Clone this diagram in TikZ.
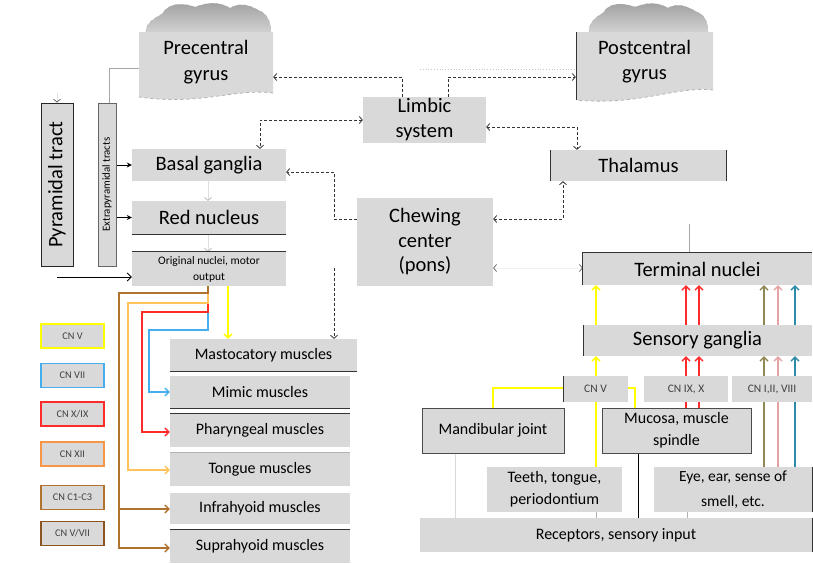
\documentclass[tikz,border=0pt]{standalone}
\usepackage{fontspec}
\setmainfont{Carlito}
\usetikzlibrary{arrows.meta}
\pgfdeclarelayer{back}
\pgfsetlayers{back,main}
\definecolor{boxgray}{HTML}{D9D9D9}
\definecolor{cyel}{HTML}{FFFF00}
\definecolor{cblue}{HTML}{45AEEE}
\definecolor{cred}{HTML}{FF2A2A}
\definecolor{corange}{HTML}{F79646}
\definecolor{clorange}{HTML}{FFC35A}
\definecolor{cbrown}{HTML}{B0722F}
\definecolor{cdbrown}{HTML}{8C5420}
\definecolor{colive}{HTML}{8F8A55}
\definecolor{cpink}{HTML}{E6A3A3}
\definecolor{cteal}{HTML}{2E8BA8}
\tikzset{
  box/.style={fill=boxgray, inner sep=0pt, align=center, font=\fontsize{20.5}{25}\selectfont},
  mbox/.style={fill=boxgray, inner sep=0pt, align=center, font=\fontsize{16}{20}\selectfont, minimum width=180pt},
  tbox/.style={fill=boxgray, inner sep=0pt, align=center, font=\fontsize{16}{23}\selectfont, minimum height=45pt},
  sbox/.style={fill=boxgray, inner sep=0pt, align=center, font=\fontsize{11.5}{12}\selectfont, text=black!75, minimum height=26pt},
  legbox/.style={fill=boxgray, inner sep=0pt, line width=1.8pt, minimum width=63pt, minimum height=24pt, font=\fontsize{10.3}{11}\selectfont, text=black!75},
  dar/.style={dash pattern=on 3pt off 2pt, line width=0.8pt, black!80},
  dtip/.tip={Straight Barb[length=3pt,width=7pt]},
  ctip/.tip={Straight Barb[length=4pt,width=8pt]},
  col/.style={line width=1.3pt},
  edge/.style={line width=1pt, black!80},
}
\begin{document}
\begin{tikzpicture}[x=1pt,y=-1pt]
\useasboundingbox (0,0) rectangle (813,563);

% ---- clouds and gyrus boxes ----
\shade[top color=gray!75, bottom color=gray!35, draw=gray!60, dashed]
  (146,33) to[out=95,in=210] (162,14) to[out=60,in=160] (195,7) to[out=20,in=150] (230,8)
  to[out=30,in=150] (258,10) to[out=-20,in=90] (271,33) -- cycle;
\fill[boxgray] (139,32) -- (273,32) -- (273,93) .. controls (235,88) and (200,106) .. (139,97) -- cycle;
\draw[gray!60, dashed, line width=0.8pt] (273,93) .. controls (235,88) and (200,106) .. (139,97);

\shade[top color=gray!75, bottom color=gray!35, draw=gray!60, dashed]
  (589,33) to[out=95,in=210] (603,13) to[out=60,in=160] (635,7) to[out=20,in=150] (668,8)
  to[out=30,in=150] (697,12) to[out=-20,in=90] (708,33) -- cycle;
\fill[boxgray] (576,32) -- (713,32) -- (713,90) .. controls (675,86) and (640,106) .. (576,100) -- cycle;
\draw[gray!60, dashed, line width=0.8pt] (713,90) .. controls (675,86) and (640,106) .. (576,100);
\draw[edge] (576,32) -- (576,100);

\node[inner sep=0pt, align=center, font=\fontsize{20.5}{26}\selectfont, minimum width=134pt, minimum height=68pt] (pre) at (206,62) {Precentral\\gyrus};
\node[inner sep=0pt, align=center, font=\fontsize{20.5}{25}\selectfont, minimum width=137pt, minimum height=68pt] (post) at (644.5,62) {Postcentral\\gyrus};

% ---- central nodes ----
\node[box, minimum width=123pt, minimum height=46pt] (limbic) at (424.5,120) {Limbic\\system};
\node[box, minimum width=175pt, minimum height=31pt] (thal) at (638.5,165.5) {Thalamus};
\node[box, minimum width=136pt, minimum height=88pt, font=\fontsize{20.5}{24.5}\selectfont] (chew) at (425,242) {Chewing\\center\\(pons)};
\draw[edge] (thal.north west) -- (thal.south west);
\draw[edge] (thal.north east) -- (thal.south east);

% ---- right side ----
\node[box, minimum width=229pt, minimum height=32pt] (term) at (697.5,269) {Terminal nuclei};
\draw[edge] (term.south west) -- (term.north west) -- (term.north east);
\node[box, minimum width=229pt, minimum height=31pt] (sg) at (697.5,340.5) {Sensory ganglia};
\draw[edge, line width=0.6pt] (sg.north west) -- (sg.south west);
\node[sbox, minimum width=65pt] (cnv) at (595.5,389) {CN V};
\draw[edge, line width=0.6pt] (cnv.north west) -- (cnv.south west);
\node[sbox, minimum width=84pt] (cnix) at (686,389) {CN IX, X};
\node[sbox, minimum width=80pt] (cni) at (772,389) {CN I,II, VIII};
\node[tbox, minimum width=142pt, draw=black!70, line width=0.6pt] (mand) at (493,430.5) {Mandibular joint};
\node[tbox, minimum width=149pt, draw=black!70, line width=0.6pt, font=\fontsize{16}{22}\selectfont] (muc) at (676.5,430.5) {Mucosa, muscle\\spindle};
\node[tbox, minimum width=135pt, font=\fontsize{16}{22}\selectfont] (teeth) at (554.5,489.5) {Teeth, tongue,\\periodontium};
\node[tbox, minimum width=158pt, font=\fontsize{15.5}{25}\selectfont] (eye) at (733,489.5) {Eye, ear, sense of\\smell, etc.};
\node[box, minimum width=392pt, minimum height=34pt, font=\fontsize{16}{18}\selectfont] (rec) at (616,535) {Receptors, sensory input};
\draw[edge] (rec.north east) -- (rec.south east);
\draw[edge, line width=0.6pt] (eye.north east) -- (eye.south east);

% ---- left side ----
\node[fill=boxgray, draw=black!85, line width=1pt, inner sep=0pt, minimum width=32pt, minimum height=163pt] (pyr) at (57,184.5) {\rotatebox{90}{\fontsize{20.5}{22}\selectfont Pyramidal tract}};
\node[fill=boxgray, draw=black!60, line width=0.7pt, inner sep=0pt, minimum width=18pt, minimum height=163pt] (extra) at (107,184.5) {\rotatebox{90}{\fontsize{10.9}{12}\selectfont Extrapyramidal tracts}};
\node[box, minimum width=154pt, minimum height=32pt] (bg) at (209,165) {Basal ganglia};
\node[box, minimum width=154pt, minimum height=33pt] (rn) at (209,217.5) {Red nucleus};
\draw[edge] (rn.south west) -- (rn.south east);
\node[box, minimum width=154pt, minimum height=34pt, font=\fontsize{11.5}{16}\selectfont] (on) at (209,269) {Original nuclei, motor\\output};
\draw[edge] (on.north west) -- (on.north east);

% ---- muscles ----
\node[mbox, minimum width=187pt, minimum height=32pt] (mast) at (263.5,355) {Mastocatory muscles};
\draw[edge] (mast.south west) -- (mast.south east);
\node[mbox, minimum height=32pt] (mim) at (260,392) {Mimic muscles};
\draw[edge] (mim.south west) -- (mim.south east);
\node[mbox, minimum height=33pt] (phar) at (260,430.5) {Pharyngeal muscles};
\draw[edge] (phar.north west) -- (phar.north east);
\node[mbox, minimum height=33pt] (tong) at (260,469.5) {Tongue muscles};
\draw[gray!60, line width=0.8pt] (tong.north west) -- (tong.north east);
\node[mbox, minimum height=31pt] (infra) at (260,508.5) {Infrahyoid muscles};
\node[mbox, minimum height=33pt] (supra) at (260,546.5) {Suprahyoid muscles};
\draw[edge] (supra.north west) -- (supra.north east);

% ---- legend ----
\node[legbox, draw=cyel] (lv) at (72.5,336) {CN V};
\node[legbox, draw=cblue] (lvii) at (72.5,375.5) {CN VII};
\node[legbox, draw=cred] (lx) at (72.5,414) {CN X/IX};
\node[legbox, draw=corange] (lxii) at (72.5,454) {CN XII};
\node[legbox, draw=cbrown] (lc) at (72.5,497.5) {CN C1-C3};
\node[legbox, draw=cdbrown] (lvv) at (72.5,533.5) {CN V/VII};

% ---- helper coordinates ----
\coordinate (c1) at (402,77);
\coordinate (c2) at (448,77);
\coordinate (c3) at (260,120);
\coordinate (c4) at (577,127);
\coordinate (c5) at (334,219);
\coordinate (c6) at (334,172);
\coordinate (c7) at (334,268);
\coordinate (c8) at (689,224);
\coordinate (c9) at (109,68);
\coordinate (c10) at (57,277);
\coordinate (c11) at (563,219);
\coordinate (c12) at (57,93);
\coordinate (g1) at (420,69);
\coordinate (xy) at (596,0);
\coordinate (xr1) at (686,0);
\coordinate (xr2) at (699,0);
\coordinate (xo) at (764,0);
\coordinate (xp) at (778,0);
\coordinate (xt) at (795,0);
\coordinate (xm) at (635,0);
\coordinate (yv) at (0,388);
\coordinate (xn) at (208,0);
\coordinate (xyl) at (228,0);
\coordinate (yt) at (0,268);
\coordinate (ym1) at (0,432);
\coordinate (ym2) at (0,470);
\coordinate (ym3) at (0,548);
\coordinate (ym4) at (0,509);
\coordinate (br) at (119,509);
\coordinate (xa) at (455,0);
\coordinate (xb) at (638,0);
\coordinate (xc) at (687,0);

\begin{pgfonlayer}{back}
% dashed connectors
\draw[dar, -dtip] (limbic.north -| c1) -- (c1) -- (c1 -| pre.east);
\draw[dar, -dtip] (limbic.north -| c2) -- (c2) -- (c2 -| post.west);
\draw[gray!45, dotted, line width=0.8pt] (g1) -- (g1 -| post.west);
\draw[dar, dtip-dtip] (limbic.west) -- (c3) -- (c3 |- bg.north);
\draw[dar, dtip-dtip] (limbic.east |- c4) -- (c4) -- (c4 |- thal.north);
\draw[dar, -dtip] (chew.west |- c5) -- (c5) -- (c6) -- (c6 -| bg.east);
\draw[dar, dtip-dtip] (chew.east |- c5) -- (c11) -- (c11 |- thal.south);
\draw[dar, -dtip] (c7) -- (c7 |- mast.north);
\draw[gray!12, line width=0.6pt, {Straight Barb[length=3pt,width=7pt,color=black!70]}-{Straight Barb[length=3pt,width=7pt,color=black!70]}] (chew.east |- yt) -- (term.west |- yt);
\draw[gray!70, line width=0.7pt] (c8) -- (c8 |- term.north);

% left connectors
\draw[gray!70, line width=0.8pt] (c9 -| pre.west) -- (c9) -- (c9 |- extra.north);
\draw[gray!25, line width=0.6pt, -{Straight Barb[length=3pt,width=7pt,color=black!70]}] (c12) -- (pyr.north);
\draw[line width=0.8pt, -{Stealth[length=5pt,width=5pt]}] (extra.east |- bg.west) -- (bg.west);
\draw[line width=0.8pt, -{Stealth[length=5pt,width=5pt]}] (extra.east |- rn.west) -- (rn.west);
\draw[line width=0.8pt, -{Straight Barb[length=4pt,width=8pt]}] (c10) -- (c10 -| on.west);
\draw[gray!25, line width=0.6pt, -{Straight Barb[length=3pt,width=7pt,color=gray!70]}] (bg.south -| xn) -- (rn.north -| xn);
\draw[gray!25, line width=0.6pt, -{Straight Barb[length=3pt,width=7pt,color=gray!70]}] (rn.south -| xn) -- (on.north -| xn);

% motor colored lines
\draw[col, cblue, -ctip] (on.south -| xn) -- (208,330) -- (149,330) -- (149,392) -- (mim.west);
\draw[col, cred, -ctip] (on.south -| xn) -- (208,312) -- (142,312) -- (142,432) -- (phar.west |- ym1);
\draw[col, clorange, -ctip] (on.south -| xn) -- (208,303) -- (128,303) -- (128,470) -- (tong.west |- ym2);
\draw[col, cbrown, -ctip] (on.south -| xn) -- (208,293) -- (119,293) -- (119,548) -- (supra.west |- ym3);
\draw[col, cbrown, -ctip] (br) -- (infra.west |- ym4);
\draw[col, cyel, -ctip] (on.south -| xyl) -- (mast.north -| xyl);

% sensory colored lines
\draw[col, cyel, -ctip] (sg.north -| xy) -- (term.south -| xy);
\draw[col, cred, -ctip] (sg.north -| xr1) -- (term.south -| xr1);
\draw[col, cred, -ctip] (sg.north -| xr2) -- (term.south -| xr2);
\draw[col, colive, -ctip] (sg.north -| xo) -- (term.south -| xo);
\draw[col, cpink, -ctip] (sg.north -| xp) -- (term.south -| xp);
\draw[col, cteal, -ctip] (sg.north -| xt) -- (term.south -| xt);
\draw[col, cyel, -ctip] (cnv.north -| xy) -- (sg.south -| xy);
\draw[col, cyel] (teeth.north -| xy) -- (cnv.south -| xy);
\draw[col, cyel] (mand.north) |- (cnv.west |- yv);
\draw[col, cyel] (muc.north -| xm) |- (cnv.east |- yv);
\draw[col, cred, -ctip] (muc.north -| xr1) -- (sg.south -| xr1);
\draw[col, cred, -ctip] (muc.north -| xr2) -- (sg.south -| xr2);
\draw[col, colive, -ctip] (eye.north -| xo) -- (sg.south -| xo);
\draw[col, cpink, -ctip] (eye.north -| xp) -- (sg.south -| xp);
\draw[col, cteal, -ctip] (eye.north -| xt) -- (sg.south -| xt);

% receptor lines
\draw[gray!30, line width=0.8pt] (mand.south -| xa) -- (rec.north -| xa);
\draw[gray!60, line width=0.8pt] (teeth.south -| xy) -- (rec.north -| xy);
\draw[black, line width=0.9pt] (muc.south -| xb) -- (rec.north -| xb);
\draw[gray!60, line width=0.8pt] (eye.south -| xc) -- (rec.north -| xc);
\end{pgfonlayer}
\end{tikzpicture}
\end{document}
